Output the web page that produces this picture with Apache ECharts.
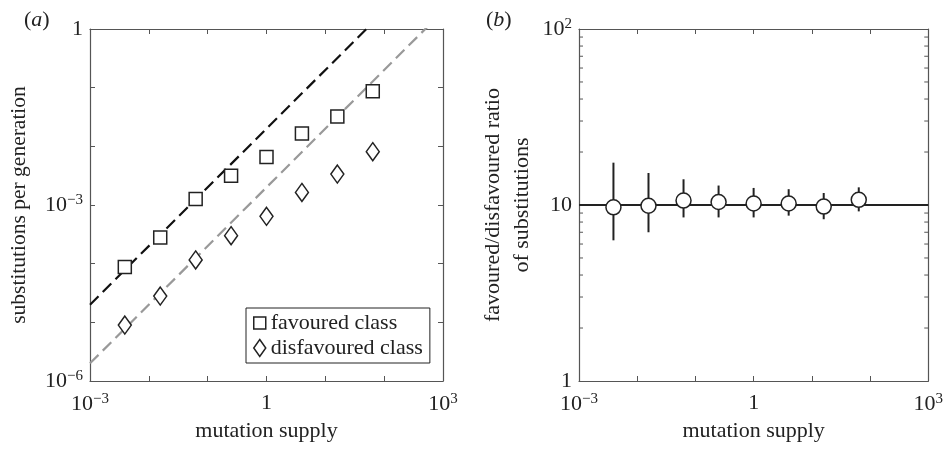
<!DOCTYPE html>
<html>
<head>
<meta charset="utf-8">
<script src="https://cdn.jsdelivr.net/npm/echarts@6/dist/echarts.min.js"></script>
<style>
  html, body { margin: 0; padding: 0; background: #fff; }
  #chart { width: 946px; height: 455px; }
</style>
</head>
<body>
<div id="chart"></div>
<script>
// mutation supply (x positions shared by both panels)
const supply = [1 / 256, 1 / 64, 1 / 16, 1 / 4, 1, 4, 16, 64]

// panel (a): substitutions per generation
const favoured = [8.8e-5, 2.8e-4, 1.26e-3, 3.15e-3, 6.6e-3, 0.0166, 0.0324, 0.0865]
const disfavoured = [9.0e-6, 2.8e-5, 1.16e-4, 3.0e-4, 6.4e-4, 1.64e-3, 3.37e-3, 8.1e-3]

// dashed reference lines (end points)
const favFitX = [0.001, 1000]
const favFitY = [2e-5, 20]
const disFitX = [0.001, 1000]
const disFitY = [2e-6, 2]

// panel (b): favoured/disfavoured ratio with error bars
const ratio = [9.7, 9.9, 10.6, 10.4, 10.2, 10.2, 9.8, 10.7]
const ratioLow = [6.3, 7.0, 8.5, 8.5, 8.5, 8.7, 8.3, 9.2]
const ratioHigh = [17.4, 15.2, 14.0, 12.9, 12.5, 12.3, 11.7, 12.6]
const ratioLineX = [0.001, 1000]
const ratioLineY = [10, 10]

// tick labels
const xTickLabels = { '-3': '10{s|−3}', '0': '1', '3': '10{s|3}' }
const yTickLabelsA = { '-6': '10{s|−6}', '-3': '10{s|−3}', '0': '1' }
const yTickLabelsB = { '0': '1', '1': '10', '2': '10{s|2}' }
// minor ticks of the ratio axis (2..9, 20..90)
const ratioMinorTicks = [2, 3, 4, 5, 6, 7, 8, 9, 20, 30, 40, 50, 60, 70, 80, 90]

const ink = '#222'
const axisColor = '#555'
const font = '"Liberation Serif", "DejaVu Serif", serif'
const fs = 22

const rich = {
  s: { fontSize: 15, fontFamily: font, color: ink, padding: [0, 0, 10, 0] },
}

function labelFrom(table) {
  return (v) => {
    const e = Math.round(Math.log10(v))
    return table[String(e)] || ''
  }
}

function zip(xs, ys) {
  return xs.map((x, i) => [x, ys[i]])
}

// 对数轴的通用配置
function logAxis(extra) {
  return Object.assign({
    type: 'log',
    logBase: 10,
    interval: 1,
    axisLine: { show: true, lineStyle: { color: axisColor, width: 1.2 } },
    axisTick: { show: true, inside: true, length: 5, lineStyle: { color: axisColor } },
    splitLine: { show: false },
    axisLabel: { show: false },
  }, extra)
}

function bottomAxis(gridIndex) {
  return logAxis({
    gridIndex,
    position: 'bottom',
    min: 0.001,
    max: 1000,
    name: 'mutation supply',
    nameLocation: 'middle',
    nameGap: 36,
    nameTextStyle: { fontSize: fs, fontFamily: font, color: ink },
    axisLabel: {
      show: true,
      margin: 11,
      fontSize: fs,
      fontFamily: font,
      color: ink,
      formatter: labelFrom(xTickLabels),
      rich,
    },
  })
}

function topAxis(gridIndex) {
  return logAxis({ gridIndex, position: 'top', min: 0.001, max: 1000 })
}

const panelTitle = (letter, left) => ({
  text: '({i|' + letter + '})',
  left,
  top: 4,
  textStyle: {
    fontSize: fs, fontFamily: font, color: ink, fontWeight: 'normal',
    rich: { i: { fontSize: fs, fontFamily: font, fontStyle: 'italic', color: ink } },
  },
})

const option = {
  animation: false,
  backgroundColor: '#fff',
  title: [panelTitle('a', 19), panelTitle('b', 481)],
  grid: [
    { left: 90, top: 29, width: 353, height: 352 },
    { left: 579, top: 29, width: 353, height: 352 },
  ],
  legend: {
    data: [
      { name: 'favoured class', icon: 'path://M0,0H10V10H0Z', symbolKeepAspect: true },
      { name: 'disfavoured class', icon: 'diamond' },
    ],
    symbolKeepAspect: true,
    orient: 'vertical',
    left: 246,
    top: 308,
    padding: [4, 7, 4, 7],
    itemGap: 3,
    itemWidth: 12,
    itemHeight: 17,
    borderColor: ink,
    borderWidth: 1,
    backgroundColor: '#fff',
    itemStyle: { color: '#fff', borderColor: ink, borderWidth: 1.5 },
    textStyle: { fontSize: fs, fontFamily: font, color: ink },
  },
  xAxis: [bottomAxis(0), topAxis(0), bottomAxis(1), topAxis(1)],
  yAxis: [
    logAxis({
      gridIndex: 0,
      position: 'left',
      min: 1e-6,
      max: 1,
      name: 'substitutions per generation',
      nameLocation: 'middle',
      nameGap: 60,
      nameTextStyle: { fontSize: 21.5, fontFamily: font, color: ink },
      axisLabel: { show: true, margin: 7, fontSize: fs, fontFamily: font, color: ink, formatter: labelFrom(yTickLabelsA), rich },
    }),
    logAxis({ gridIndex: 0, position: 'right', min: 1e-6, max: 1 }),
    logAxis({
      gridIndex: 1,
      position: 'left',
      min: 1,
      max: 100,
      name: 'favoured/disfavoured ratio\nof substitutions',
      nameLocation: 'middle',
      nameGap: 42,
      nameTextStyle: { fontSize: fs, fontFamily: font, color: ink, lineHeight: 29 },
      axisLabel: { show: true, margin: 7, fontSize: fs, fontFamily: font, color: ink, formatter: labelFrom(yTickLabelsB), rich },
    }),
    logAxis({ gridIndex: 1, position: 'right', min: 1, max: 100 }),
  ],
  series: [
    {
      type: 'line',
      xAxisIndex: 0,
      yAxisIndex: 0,
      data: zip(favFitX, favFitY),
      symbol: 'none',
      clip: true,
      lineStyle: { color: '#111', width: 2.2, type: [12, 6] },
      z: 2,
    },
    {
      type: 'line',
      xAxisIndex: 0,
      yAxisIndex: 0,
      data: zip(disFitX, disFitY),
      symbol: 'none',
      clip: true,
      lineStyle: { color: '#999', width: 2.2, type: [12, 6] },
      z: 2,
    },
    {
      name: 'favoured class',
      type: 'scatter',
      xAxisIndex: 0,
      yAxisIndex: 0,
      data: zip(supply, favoured),
      symbol: 'rect',
      symbolSize: 13,
      itemStyle: { color: '#fff', borderColor: ink, borderWidth: 1.5, opacity: 1 },
      z: 3,
    },
    {
      name: 'disfavoured class',
      type: 'scatter',
      xAxisIndex: 0,
      yAxisIndex: 0,
      data: zip(supply, disfavoured),
      symbol: 'diamond',
      symbolSize: [13, 18],
      itemStyle: { color: '#fff', borderColor: ink, borderWidth: 1.5, opacity: 1 },
      z: 3,
    },
    {
      // minor ticks 2..9 on both sides of panel (b)
      type: 'custom',
      xAxisIndex: 2,
      yAxisIndex: 2,
      silent: true,
      data: ratioMinorTicks.map((v) => [1, v]),
      encode: { y: 1 },
      renderItem: (params, api) => {
        const cs = params.coordSys
        const y = api.coord([1, api.value(1)])[1]
        const st = { stroke: axisColor, lineWidth: 1 }
        return {
          type: 'group',
          children: [
            { type: 'line', shape: { x1: cs.x, y1: y, x2: cs.x + 4, y2: y }, style: st },
            { type: 'line', shape: { x1: cs.x + cs.width - 4, y1: y, x2: cs.x + cs.width, y2: y }, style: st },
          ],
        }
      },
      z: 1,
    },
    {
      type: 'line',
      xAxisIndex: 2,
      yAxisIndex: 2,
      data: zip(ratioLineX, ratioLineY),
      symbol: 'none',
      lineStyle: { color: ink, width: 2 },
      z: 2,
    },
    {
      type: 'custom',
      xAxisIndex: 2,
      yAxisIndex: 2,
      data: supply.map((x, i) => [x, ratioLow[i], ratioHigh[i]]),
      encode: { x: 0, y: [1, 2] },
      renderItem: (params, api) => {
        const lo = api.coord([api.value(0), api.value(1)])
        const hi = api.coord([api.value(0), api.value(2)])
        return {
          type: 'line',
          shape: { x1: lo[0], y1: lo[1], x2: hi[0], y2: hi[1] },
          style: { stroke: ink, lineWidth: 2 },
        }
      },
      z: 3,
    },
    {
      type: 'scatter',
      xAxisIndex: 2,
      yAxisIndex: 2,
      data: zip(supply, ratio),
      symbol: 'circle',
      symbolSize: 15,
      itemStyle: { color: '#fff', borderColor: ink, borderWidth: 1.5, opacity: 1 },
      z: 4,
    },
  ],
}

const chart = echarts.init(document.getElementById('chart'), null, { renderer: 'canvas' })
chart.setOption(option)
</script>
</body>
</html>
